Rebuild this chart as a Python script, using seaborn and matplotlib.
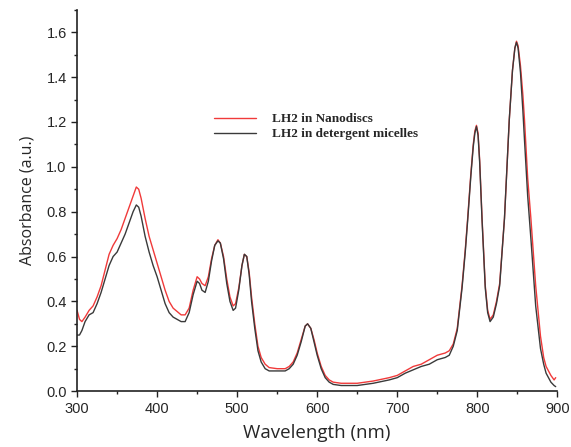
import numpy as np
import pandas as pd
import matplotlib
matplotlib.use('Agg')
import matplotlib.pyplot as plt
from matplotlib.ticker import MultipleLocator, FormatStrFormatter
import seaborn as sns

# Absorbance spectra
wavelength = [300, 303, 306, 310, 315, 320, 325, 330, 335, 340, 345, 350, 355, 360, 365, 370,
              374, 377, 380, 385, 390, 395, 400, 405, 410, 415, 420, 425, 430, 435, 440, 445,
              450, 453, 456, 460, 464, 468, 472, 476, 479, 483, 487, 491, 495, 498, 502, 506,
              509, 512, 515, 518, 522, 526, 530, 535, 540, 550, 560, 565, 570, 575, 580, 585,
              588, 592, 596, 600, 605, 610, 615, 620, 630, 650, 670, 690, 700, 710, 720, 730,
              740, 750, 760, 765, 770, 775, 781, 785, 788, 792, 795, 797, 799, 801, 803, 806,
              810, 813, 816, 820, 824, 828, 834, 840, 844, 847, 849, 851, 854, 857, 859, 863,
              867, 873, 879, 883, 886, 892, 896, 898]

nanodiscs = [0.36, 0.32, 0.31, 0.33, 0.36, 0.38, 0.42, 0.47, 0.54, 0.61, 0.65, 0.68, 0.72, 0.77, 0.82, 0.87,
             0.91, 0.90, 0.86, 0.77, 0.69, 0.63, 0.57, 0.51, 0.45, 0.40, 0.37, 0.355, 0.34, 0.34, 0.37, 0.45,
             0.51, 0.50, 0.48, 0.47, 0.51, 0.59, 0.65, 0.675, 0.66, 0.60, 0.50, 0.42, 0.38, 0.39, 0.46, 0.56,
             0.61, 0.60, 0.53, 0.42, 0.30, 0.20, 0.15, 0.12, 0.105, 0.10, 0.10, 0.11, 0.13, 0.17, 0.23, 0.29,
             0.30, 0.28, 0.23, 0.17, 0.11, 0.07, 0.05, 0.04, 0.035, 0.035, 0.045, 0.06, 0.07, 0.09, 0.11, 0.12,
             0.14, 0.16, 0.17, 0.18, 0.21, 0.28, 0.47, 0.63, 0.77, 0.97, 1.10, 1.16, 1.185, 1.15, 1.03, 0.77,
             0.47, 0.36, 0.32, 0.34, 0.40, 0.48, 0.77, 1.21, 1.43, 1.53, 1.56, 1.54, 1.45, 1.32, 1.21, 0.95,
             0.77, 0.47, 0.245, 0.15, 0.11, 0.07, 0.05, 0.06]

micelles = [0.25, 0.25, 0.27, 0.31, 0.34, 0.35, 0.39, 0.44, 0.50, 0.56, 0.60, 0.62, 0.66, 0.70, 0.75, 0.80,
            0.83, 0.82, 0.78, 0.69, 0.62, 0.56, 0.51, 0.45, 0.39, 0.35, 0.33, 0.32, 0.31, 0.31, 0.35, 0.43,
            0.49, 0.48, 0.45, 0.44, 0.49, 0.58, 0.65, 0.67, 0.66, 0.59, 0.48, 0.40, 0.36, 0.37, 0.45, 0.56,
            0.61, 0.60, 0.52, 0.40, 0.28, 0.18, 0.13, 0.10, 0.09, 0.09, 0.09, 0.10, 0.12, 0.16, 0.22, 0.29,
            0.30, 0.28, 0.22, 0.16, 0.10, 0.06, 0.04, 0.03, 0.025, 0.025, 0.035, 0.05, 0.06, 0.08, 0.095, 0.11,
            0.12, 0.14, 0.15, 0.16, 0.20, 0.27, 0.46, 0.62, 0.76, 0.96, 1.09, 1.15, 1.18, 1.14, 1.02, 0.76,
            0.46, 0.35, 0.31, 0.33, 0.39, 0.47, 0.77, 1.21, 1.43, 1.53, 1.555, 1.53, 1.42, 1.25, 1.12, 0.87,
            0.68, 0.38, 0.19, 0.12, 0.08, 0.04, 0.025, 0.02]

labels = ['LH2 in Nanodiscs', 'LH2 in detergent micelles']

df = pd.DataFrame({
    'Wavelength': wavelength * 2,
    'Absorbance': nanodiscs + micelles,
    'Sample': [labels[0]] * len(wavelength) + [labels[1]] * len(wavelength),
})

sns.set_style('ticks')
plt.rcParams['font.family'] = ['Liberation Sans', 'DejaVu Sans']

fig = plt.figure(figsize=(5.71, 4.47), dpi=100)
ax = fig.add_axes([0.135, 0.125, 0.841, 0.853])

sns.lineplot(data=df, x='Wavelength', y='Absorbance', hue='Sample',
             palette={labels[0]: '#f03a3a', labels[1]: '#3a3a3a'},
             linewidth=1.0, ax=ax, legend=True)

ax.set_xlim(300, 900)
ax.set_ylim(0, 1.7)
ax.xaxis.set_major_locator(MultipleLocator(100))
ax.xaxis.set_minor_locator(MultipleLocator(50))
ax.yaxis.set_major_locator(MultipleLocator(0.2))
ax.yaxis.set_minor_locator(MultipleLocator(0.1))
ax.yaxis.set_major_formatter(FormatStrFormatter('%.1f'))
ax.tick_params(which='major', length=4, width=1, labelsize=10.5, color='#222222')
ax.tick_params(which='minor', length=2.5, width=1, color='#222222')
for s in ['left', 'bottom']:
    ax.spines[s].set_linewidth(1.2)
    ax.spines[s].set_color('#222222')
sns.despine(ax=ax)

ax.set_xlabel('Wavelength (nm)', fontsize=13.5, family='Open Sans', labelpad=6)
ax.set_ylabel('Absorbance (a.u.)', fontsize=11.5, family='Open Sans', labelpad=8)

ax.legend(loc='upper left', bbox_to_anchor=(0.26, 0.76), frameon=False,
          prop={'family': 'Liberation Serif', 'weight': 'bold', 'size': 9.5},
          handlelength=3.2, handletextpad=1.2, labelspacing=0.2)

fig.savefig('out.png', dpi=100)
